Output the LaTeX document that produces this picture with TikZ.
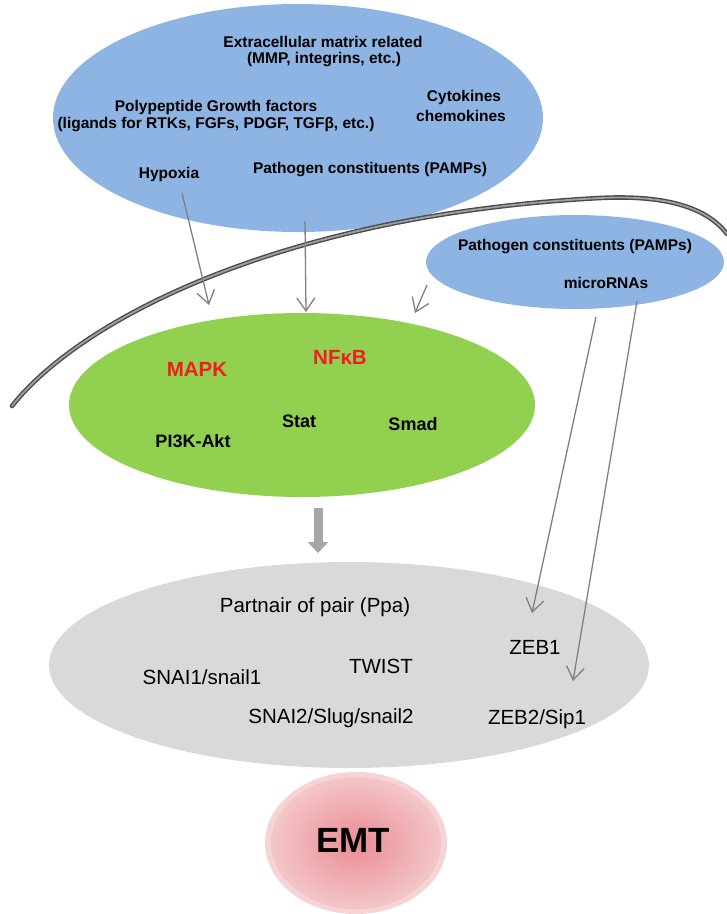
\documentclass[tikz,border=0pt]{standalone}
\usepackage{fontspec}
\setmainfont{Liberation Sans}
\usetikzlibrary{arrows.meta,shapes.geometric}
\definecolor{extblue}{HTML}{8DB4E2}
\definecolor{siggreen}{HTML}{92D050}
\definecolor{tfgrey}{HTML}{D9D9D9}
\definecolor{arrgrey}{HTML}{808080}
\definecolor{bigarr}{HTML}{A6A6A6}
\definecolor{memdark}{HTML}{4A4A4A}
\definecolor{memlight}{HTML}{A0A0A0}
\definecolor{emtin}{HTML}{EA8C93}
\definecolor{emtout}{HTML}{F3C6C8}
\definecolor{emtrim}{HTML}{F6D3D5}
\definecolor{txtred}{HTML}{F01E1E}
\tikzset{
  blob/.style={ellipse, inner sep=0pt, draw=none},
  lbl/.style={inner sep=0pt, font=\fontsize{15.5}{18}\selectfont\bfseries, align=center},
  sig/.style={inner sep=0pt, font=\fontsize{18}{21}\selectfont\bfseries},
  sigred/.style={inner sep=0pt, font=\fontsize{20.5}{24}\selectfont\bfseries, text=txtred},
  tf/.style={inner sep=0pt, font=\fontsize{20.5}{24}\selectfont},
  thin arrow/.style={draw=arrgrey, line width=1.3pt, -{Straight Barb[length=13pt,width=18pt]}},
  membrane/.style={draw=memdark, line width=1.4pt, double=memlight, double distance=1.8pt, line cap=round}
}
\begin{document}
\begin{tikzpicture}[x=1pt,y=-1pt]
\useasboundingbox (0,0) rectangle (727,914);
% ellipses
\node[blob, fill=extblue, minimum width=490pt, minimum height=228pt] (ext) at (298,118) {};
\node[blob, fill=siggreen, minimum width=466pt, minimum height=184pt] (sigbox) at (302,405) {};
\node[blob, fill=tfgrey, minimum width=600pt, minimum height=206pt] (tfbox) at (349,665) {};
% membrane
\coordinate (m0) at (12,406);
\coordinate (m1) at (600,198);
\coordinate (m2) at (727,234);
\draw[membrane] (m0) .. controls (80,320) and (280,215) .. (m1)
                .. controls (660,195) and (705,205) .. (m2);
% small extracellular ellipse
\node[blob, fill=extblue, minimum width=298pt, minimum height=94pt] (ext2) at (575,262) {};
% EMT
\node[blob, fill=emtrim, minimum width=182pt, minimum height=142pt] (emtrimnode) at (356,843) {};
\node[blob, inner color=emtin, outer color=emtout, minimum width=170pt, minimum height=132pt] (emt) at (356,843) {};
% texts
\node[lbl] (ecm1) at (323,42) {Extracellular matrix related};
\node[lbl] (ecm2) at (324,60) {(MMP, integrins, etc.)};
\node[lbl] (pgf1) at (216,107) {Polypeptide Growth factors};
\node[lbl] (pgf2) at (216,125) {(ligands for RTKs, FGFs, PDGF, TGFβ, etc.)};
\node[lbl] (cyt1) at (464,97) {Cytokines};
\node[lbl] (cyt2) at (461,116) {chemokines};
\node[lbl] (hyp) at (169,174) {Hypoxia};
\node[lbl] (pamp1) at (370,170) {Pathogen constituents (PAMPs)};
\node[lbl] (pamp2) at (575,247) {Pathogen constituents (PAMPs)};
\node[lbl] (mirna) at (606,283) {microRNAs};
\node[sigred] (mapk) at (197,369) {MAPK};
\node[sigred] (nfkb) at (340,357) {NFκB};
\node[sig] (stat) at (299,421) {Stat};
\node[sig] (smad) at (413,424) {Smad};
\node[sig] (pi3k) at (193,441) {PI3K-Akt};
\node[tf] (ppa) at (315,607) {Partnair of pair (Ppa)};
\node[tf] (zeb1) at (535,647) {ZEB1};
\node[tf] (twist) at (381,666) {TWIST};
\node[tf] (snai1) at (202,677) {SNAI1/snail1};
\node[tf] (snai2) at (331,718) {SNAI2/Slug/snail2};
\node[tf] (zeb2) at (537,719) {ZEB2/Sip1};
\node[inner sep=0pt, font=\fontsize{35}{40}\selectfont\bfseries] (emttxt) at (353,840) {EMT};
% arrow end points
\coordinate (a1s) at (182,193);
\coordinate (a1e) at (209,305);
\coordinate (a2s) at (305,221);
\coordinate (a2e) at (306,312);
\coordinate (a3s) at (427,285);
\coordinate (a3e) at (415,313);
\coordinate (a4s) at (596,317);
\coordinate (a4e) at (532,613);
\coordinate (a5s) at (637,301);
\coordinate (a5e) at (573,681);
\draw[thin arrow] (a1s) -- (a1e);
\draw[thin arrow] (a2s) -- (a2e);
\draw[thin arrow] (a3s) -- (a3e);
\draw[thin arrow] (a4s) -- (a4e);
\draw[thin arrow] (a5s) -- (a5e);
% big arrow
\coordinate (bas) at (318,508);
\coordinate (bae) at (318,553);
\draw[draw=bigarr, line width=9pt, -{Triangle[length=11pt,width=20pt]}] (bas) -- (bae);
\end{tikzpicture}
\end{document}
